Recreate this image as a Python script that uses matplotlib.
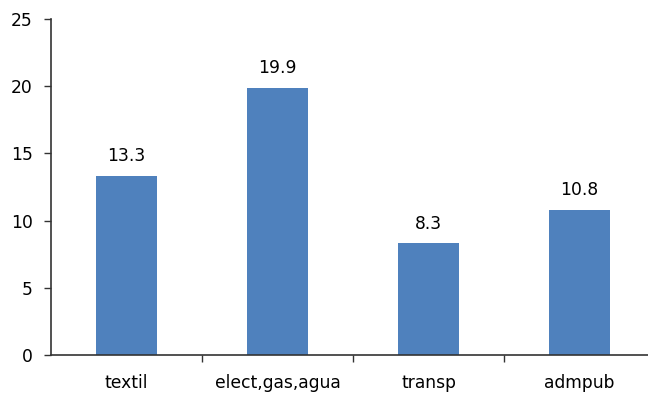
import matplotlib.pyplot as plt
import numpy as np

categories = ['textil', 'elect,gas,agua', 'transp', 'admpub']
values = [13.3, 19.9, 8.3, 10.8]
yticks = [0, 5, 10, 15, 20, 25]

W, H = 648, 393
fig = plt.figure(figsize=(W / 100, H / 100), dpi=100)
# axes extends slightly past the right edge so the baseline runs off the figure
ax = fig.add_axes([51 / W, (H - 355) / H, 604 / W, (355 - 19) / H])

x = np.arange(len(categories))
ax.bar(x, values, width=0.40, color='#4F81BD', zorder=2)

for xi, v in zip(x, values):
    ax.text(xi, v + 0.8, f'{v:.1f}', ha='center', va='bottom', fontsize=12.3, color='black')

ax.set_xlim(-0.5, len(categories) - 0.5)
ax.set_ylim(0, 25)
ax.set_yticks(yticks)
ax.set_yticklabels([str(t) for t in yticks], fontsize=12.3)

# category labels at centres, tick marks between categories
ax.set_xticks(x)
ax.set_xticklabels(categories, fontsize=12.3)
ax.tick_params(axis='x', which='major', length=0, pad=14)
ax.set_xticks(np.arange(1, len(categories)) - 0.5, minor=True)
ax.tick_params(axis='x', which='minor', length=5, width=1, color='#333333', direction='out')
ax.tick_params(axis='y', length=5, width=1, color='#333333', direction='out', pad=8)

for side in ['top', 'right']:
    ax.spines[side].set_visible(False)
for side in ['left', 'bottom']:
    ax.spines[side].set_color('#333333')
    ax.spines[side].set_linewidth(1.2)

fig.savefig('out.png', dpi=100)
